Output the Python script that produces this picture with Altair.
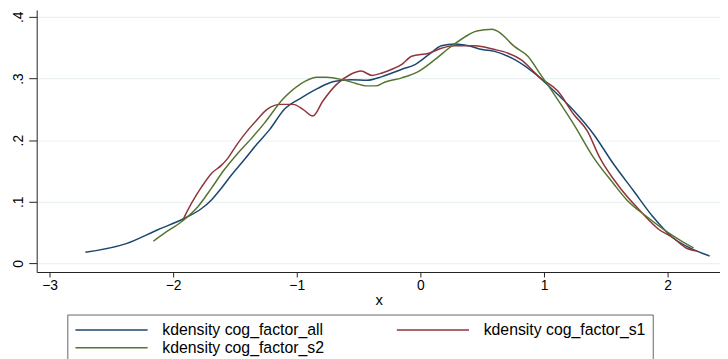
import altair as alt
import pandas as pd

series_names = ["kdensity cog_factor_all", "kdensity cog_factor_s1", "kdensity cog_factor_s2"]
series_colors = ["#1a476f", "#90353b", "#55752f"]
legend_order = ["kdensity cog_factor_all", "kdensity cog_factor_s2", "kdensity cog_factor_s1"]

all_x = [-2.71, -2.38, -2.12, -1.92, -1.77, -1.69, -1.61, -1.53, -1.43, -1.32, -1.22, -1.10,
         -0.96, -0.83, -0.70, -0.56, -0.43, -0.31, -0.15, -0.04, 0.07, 0.17, 0.28, 0.39,
         0.50, 0.60, 0.76, 0.92, 1.08, 1.24, 1.40, 1.56, 1.72, 1.88, 2.04, 2.20, 2.34]
all_y = [0.018, 0.032, 0.055, 0.072, 0.089, 0.103, 0.122, 0.143, 0.167, 0.194, 0.217, 0.250,
         0.269, 0.284, 0.295, 0.298, 0.297, 0.303, 0.315, 0.323, 0.339, 0.353, 0.356, 0.353,
         0.347, 0.344, 0.331, 0.309, 0.280, 0.248, 0.210, 0.162, 0.119, 0.076, 0.042, 0.023, 0.012]

s1_x = [-1.92, -1.85, -1.77, -1.69, -1.61, -1.56, -1.48, -1.40, -1.33, -1.24, -1.13, -1.03,
        -0.95, -0.87, -0.79, -0.68, -0.57, -0.48, -0.39, -0.31, -0.23, -0.15, -0.07, 0.07,
        0.17, 0.28, 0.44, 0.60, 0.71, 0.81, 0.97, 1.11, 1.24, 1.35, 1.45, 1.61, 1.77, 1.93,
        2.04, 2.15, 2.24]
s1_y = [0.071, 0.098, 0.124, 0.146, 0.159, 0.170, 0.194, 0.215, 0.231, 0.250, 0.258, 0.258,
        0.250, 0.239, 0.263, 0.290, 0.306, 0.312, 0.305, 0.309, 0.315, 0.323, 0.336, 0.341,
        0.349, 0.353, 0.353, 0.347, 0.341, 0.331, 0.301, 0.280, 0.242, 0.215, 0.172, 0.124,
        0.087, 0.055, 0.042, 0.025, 0.020]

s2_x = [-2.16, -2.07, -1.93, -1.80, -1.69, -1.59, -1.48, -1.37, -1.26, -1.11, -0.97, -0.84,
        -0.76, -0.63, -0.52, -0.44, -0.36, -0.29, -0.15, -0.01, 0.12, 0.23, 0.39,
        0.44, 0.52, 0.58, 0.63, 0.76, 0.87, 0.97, 1.08, 1.24, 1.40, 1.56, 1.67, 1.83, 1.99,
        2.09, 2.21]
s2_y = [0.036, 0.049, 0.068, 0.092, 0.122, 0.151, 0.178, 0.202, 0.228, 0.267, 0.291, 0.302,
        0.302, 0.298, 0.292, 0.288, 0.288, 0.294, 0.301, 0.312, 0.331, 0.349, 0.371,
        0.376, 0.379, 0.380, 0.376, 0.352, 0.336, 0.307, 0.275, 0.226, 0.172, 0.130, 0.103,
        0.076, 0.052, 0.039, 0.025]

x_ticks = [-3, -2, -1, 0, 1, 2]
y_ticks = [0, 0.1, 0.2, 0.3, 0.4]

rows = []
for name, xs, ys in zip(series_names, [all_x, s1_x, s2_x], [all_y, s1_y, s2_y]):
    for i, (a, b) in enumerate(zip(xs, ys)):
        rows.append({"series": name, "x": a, "y": b, "i": i})
df = pd.DataFrame(rows)

FONT = "Liberation Sans"

chart = alt.Chart(df).mark_line(strokeWidth=1.5, interpolate="monotone", clip=True).encode(
    x=alt.X("x:Q",
            scale=alt.Scale(domain=[-3.104, 2.424], nice=False, zero=False),
            axis=alt.Axis(values=x_ticks, title="x", grid=False, tickSize=5,
                          labelPadding=13, labelBaseline="alphabetic", labelFontSize=14,
                          titleFontSize=15, titleFontWeight="normal", titleBaseline="alphabetic",
                          titleY=33, titleX=346, titleAnchor="start", titleAlign="center",
                          domainColor="#222222", tickColor="#222222", labelColor="#000000",
                          titleColor="#000000", labelFlush=False)),
    y=alt.Y("y:Q",
            scale=alt.Scale(domain=[-0.014, 0.4112], nice=False, zero=False),
            axis=alt.Axis(values=y_ticks, title="", grid=True, gridColor="#eaf2f3",
                          gridWidth=1.2, tickSize=8, labelPadding=6, labelAngle=270,
                          labelAlign="center", labelBaseline="alphabetic", labelFontSize=14,
                          labelExpr="datum.value == 0 ? '0' : '.' + round(datum.value * 10)",
                          domainColor="#222222", tickColor="#222222", labelColor="#000000",
                          labelFlush=False)),
    color=alt.Color("series:N",
                    scale=alt.Scale(domain=series_names, range=series_colors),
                    legend=alt.Legend(title=None, orient="none", legendX=31, legendY=308,
                                      values=legend_order,
                                      columns=2, symbolType="M-1,0H9", symbolSize=213,
                                      symbolStrokeWidth=1.5, symbolFillColor="transparent",
                                      labelFontSize=16, labelOffset=72,
                                      columnPadding=70, rowPadding=1, padding=7,
                                      strokeColor="#666666", labelColor="#000000",
                                      labelLimit=400)),
    order="i:Q",
).properties(
    width=691, height=265,
    padding={"left": 29, "top": 0, "right": 0, "bottom": 86},
    autosize=alt.AutoSizeParams(type="none"),
).configure(font=FONT).configure_view(stroke=None)

chart.save("out.html", embed_options={"renderer": "svg", "actions": False})
